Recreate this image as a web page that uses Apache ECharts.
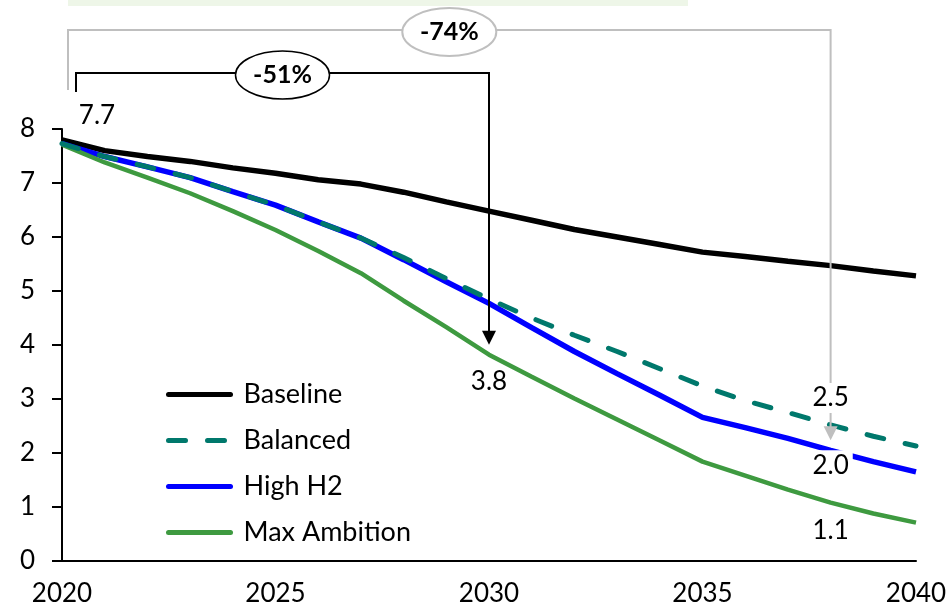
<!DOCTYPE html>
<html>
<head>
<meta charset="utf-8">
<script src="https://cdn.jsdelivr.net/npm/echarts@6/dist/echarts.min.js"></script>
<style>
html,body{margin:0;padding:0;background:#fff;}
#chart{width:949px;height:605px;}
</style>
</head>
<body>
<div id="chart"></div>
<script>
const years = [2020,2021,2022,2023,2024,2025,2026,2027,2028,2029,2030,2031,2032,2033,2034,2035,2036,2037,2038,2039,2040];
const baseline = [7.80,7.60,7.49,7.40,7.28,7.18,7.06,6.98,6.83,6.65,6.48,6.31,6.14,6.00,5.86,5.72,5.64,5.55,5.47,5.37,5.28];
const balanced = [7.73,7.49,7.30,7.10,6.84,6.59,6.28,5.98,5.62,5.23,4.85,4.50,4.18,3.88,3.56,3.24,2.97,2.75,2.52,2.31,2.13];
const highH2 = [7.73,7.49,7.30,7.10,6.84,6.59,6.28,5.98,5.58,5.17,4.77,4.32,3.88,3.47,3.07,2.66,2.47,2.27,2.05,1.84,1.65];
const maxAmbition = [7.71,7.38,7.10,6.81,6.48,6.13,5.74,5.33,4.82,4.33,3.82,3.41,3.01,2.62,2.23,1.84,1.58,1.32,1.08,0.88,0.71];
const seriesNames = ['Baseline','Balanced','High H2','Max Ambition'];
const xTicks = [2020,2025,2030,2035,2040];
const yTicks = [0,1,2,3,4,5,6,7,8];
const annotations = [
  {text:'7.7', year:2020, value:7.73},
  {text:'3.8', year:2030, value:3.82},
  {text:'2.5', year:2038, value:2.52},
  {text:'2.0', year:2038, value:2.05},
  {text:'1.1', year:2038, value:1.08}
];
const reductions = [
  {text:'-51%', fromYear:2020, toYear:2030, toValue:3.82},
  {text:'-74%', fromYear:2020, toYear:2038, toValue:2.05}
];

const FONT = 'Lato, "Noto Sans", sans-serif';
const pairs = arr => years.map((y,i)=>[y, arr[i]]);

const chart = echarts.init(document.getElementById('chart'), null, {renderer:'canvas'});
const lineCommon = {type:'line', symbol:'none', showSymbol:false, smooth:false, z:3};
chart.setOption({
  animation:false,
  backgroundColor:'#ffffff',
  textStyle:{fontFamily:FONT},
  grid:{left:62, right:33, top:129, bottom:44, containLabel:false, outerBoundsMode:'none'},
  xAxis:{
    type:'value', min:xTicks[0], max:xTicks[xTicks.length-1], interval:5,
    axisLine:{show:true, onZero:false, lineStyle:{color:'#000', width:2}},
    axisTick:{show:false},
    splitLine:{show:false},
    axisLabel:{color:'#000', fontSize:26, fontFamily:FONT, margin:20, formatter:v=>String(v), showMinLabel:true, showMaxLabel:true}
  },
  yAxis:{
    type:'value', min:yTicks[0], max:yTicks[yTicks.length-1], interval:1,
    axisLine:{show:true, lineStyle:{color:'#000', width:2}},
    axisTick:{show:true, inside:false, length:10, lineStyle:{color:'#000', width:2}},
    splitLine:{show:false},
    axisLabel:{color:'#000', fontSize:26, fontFamily:FONT, margin:27}
  },
  legend:{
    orient:'vertical', left:161, top:376,
    itemWidth:62, itemHeight:10, itemGap:19,
    itemStyle:{opacity:0},
    lineStyle:{width:5, cap:'round'},
    textStyle:{fontSize:27, fontFamily:FONT, color:'#000', lineHeight:27, padding:[0,0,0,8]},
    data:seriesNames
  },
  series:[
    Object.assign({}, lineCommon, {name:seriesNames[0], data:pairs(baseline), lineStyle:{color:'#000000', width:5.5}, itemStyle:{color:'#000000'}}),
    Object.assign({}, lineCommon, {name:seriesNames[1], data:pairs(balanced), z:4, lineStyle:{color:'#00786c', width:5, type:[17,22], cap:'round'}, itemStyle:{color:'#00786c'}}),
    Object.assign({}, lineCommon, {name:seriesNames[2], data:pairs(highH2), lineStyle:{color:'#0000ff', width:5.5}, itemStyle:{color:'#0000ff'}}),
    Object.assign({}, lineCommon, {name:seriesNames[3], data:pairs(maxAmbition), lineStyle:{color:'#3e9a40', width:4.5}, itemStyle:{color:'#3e9a40'}})
  ]
});

function px(x,y){ return chart.convertToPixel({gridIndex:0}, [x,y]); }

const labelOffsets = [[35,-28],[0,27],[0,-27],[0,15],[0,28]];
const labelBg = [null,null,'#fff','#fff',null];
const g = [];
// faint green strip at top
g.push({type:'rect', shape:{x:68, y:0, width:620, height:6}, style:{fill:'#eef6e8'}, z:1, silent:true});

annotations.forEach((a,i)=>{
  const p = px(a.year, a.value);
  g.push({type:'text', x:p[0]+labelOffsets[i][0], y:p[1]+labelOffsets[i][1], z:20,
    style:{text:a.text, fontSize:26, fontFamily:FONT, fill:'#000', align:'center', verticalAlign:'middle',
      backgroundColor:labelBg[i]||'transparent', padding:labelBg[i]?[2,4,2,4]:0}});
});

const bracketStyles = [
  {color:'#000', top:73, leftDx:14, leftBottom:92, ellStroke:'#000', ellWidth:1.5},
  {color:'#bfbfbf', top:30, leftDx:6, leftBottom:90, ellStroke:'#bfbfbf', ellWidth:2}
];
reductions.forEach((r,i)=>{
  const s = bracketStyles[i];
  const p0 = px(r.fromYear, r.toValue);
  const p1 = px(r.toYear, r.toValue);
  const lx = p0[0]+s.leftDx, rx = p1[0];
  const tipY = p1[1]-10;
  g.push({type:'polyline', z:10, shape:{points:[[lx,s.leftBottom],[lx,s.top],[rx,s.top],[rx,tipY-13]]},
    style:{stroke:s.color, lineWidth:2, fill:null}});
  g.push({type:'polygon', z:10, shape:{points:[[rx-7,tipY-14],[rx+7,tipY-14],[rx,tipY]]}, style:{fill:s.color}});
  const cx = (lx+rx)/2;
  g.push({type:'ellipse', z:11, shape:{cx:cx, cy:s.top+2, rx:47, ry:24}, style:{fill:'#fff', stroke:s.ellStroke, lineWidth:s.ellWidth}});
  g.push({type:'text', z:12, x:cx, y:s.top+2, style:{text:r.text, fontSize:25, fontWeight:'bold', fontFamily:FONT, fill:'#000', align:'center', verticalAlign:'middle'}});
});
chart.setOption({graphic:g});
</script>
</body>
</html>
